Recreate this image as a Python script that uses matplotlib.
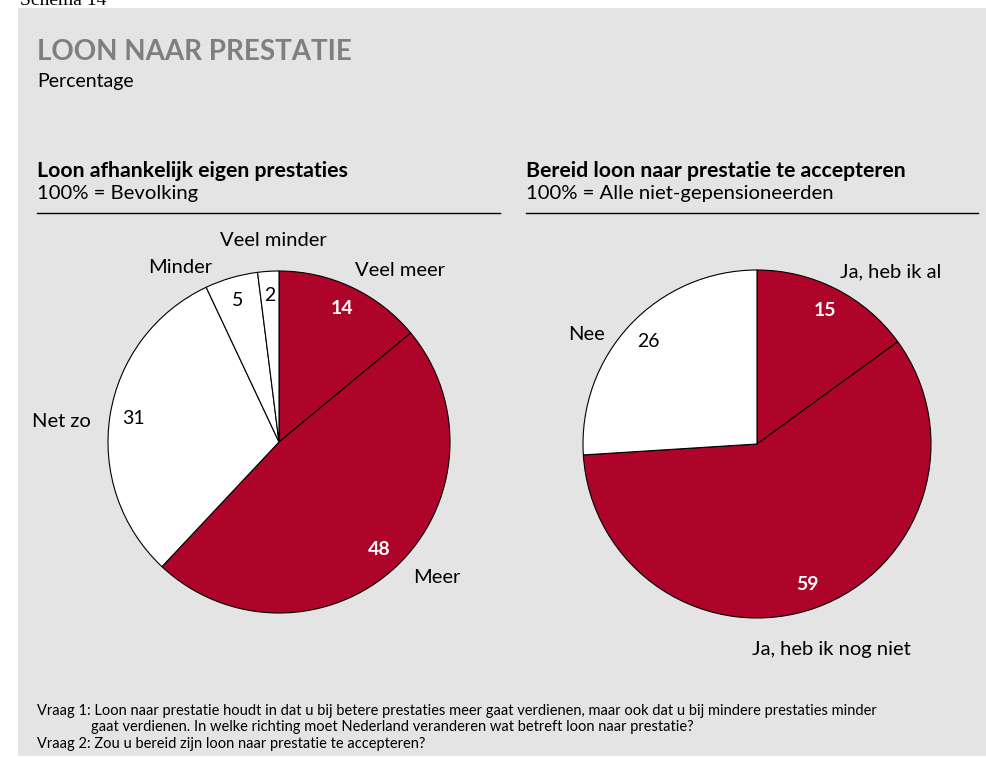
import numpy as np
import matplotlib.pyplot as plt
from matplotlib.patches import Rectangle

# data
left_title = "Loon afhankelijk eigen prestaties"
left_base = "100% = Bevolking"
left_labels = ["Veel meer", "Meer", "Net zo", "Minder", "Veel minder"]
left_values = [14, 48, 31, 5, 2]
left_red = [True, True, False, False, False]

right_title = "Bereid loon naar prestatie te accepteren"
right_base = "100% = Alle niet-gepensioneerden"
right_labels = ["Ja, heb ik al", "Ja, heb ik nog niet", "Nee"]
right_values = [15, 59, 26]
right_red = [True, True, False]

# layout of outside labels (unit-radius coords)
left_label_pos = [(0.71, 1.0), (0.92, -0.79), (-1.27, 0.12), (-0.58, 1.02), (-0.03, 1.18)]
right_label_pos = [(0.77, 0.99), (0.43, -1.18), (-0.98, 0.63)]

RED = "#AF042A"
BG = "#E4E4E4"
W, H = 986, 758

plt.rcParams["font.family"] = ["Lato", "DejaVu Sans"]

fig = plt.figure(figsize=(W / 100, H / 100), dpi=100)


def fx(px):
    return px / W


def fy(py):
    return 1 - py / H


fig.patches.append(Rectangle((fx(18), fy(756)), fx(986) - fx(18), fy(8) - fy(756),
                             transform=fig.transFigure, facecolor=BG, edgecolor="none", zorder=-5))

fig.text(fx(20), fy(5), "Schema 14", family="Liberation Serif", fontsize=14, va="baseline", ha="left")
fig.text(fx(37), fy(52), "LOON NAAR PRESTATIE", fontsize=20, fontweight="bold", color="#7F7F7F",
         va="center", ha="left")
fig.text(fx(37), fy(82), "Percentage", fontsize=14, va="center", ha="left")


def draw_pie(cx, cy, r, values, labels, red, label_pos, title, base, tx, line_x1):
    fig.text(fx(tx), fy(171), title, fontsize=15.3, fontweight="bold", va="center", ha="left")
    fig.text(fx(tx), fy(194), base, fontsize=14.6, va="center", ha="left")
    fig.add_artist(plt.Line2D([fx(tx), fx(line_x1)], [fy(213), fy(213)], color="black", lw=1.0,
                              transform=fig.transFigure))

    ax = fig.add_axes([fx(cx - r), fy(cy + r), fx(2 * r), fy(cy - r) - fy(cy + r)])
    colors = [RED if c else "white" for c in red]
    wedges, texts = ax.pie(values, colors=colors, startangle=90, counterclock=False,
                           wedgeprops=dict(edgecolor="black", linewidth=0.8))
    ax.set_xlim(-1, 1)
    ax.set_ylim(-1, 1)
    ax.set_aspect("equal")
    ax.axis("off")
    for w, v, c in zip(wedges, values, red):
        ang = np.deg2rad((w.theta1 + w.theta2) / 2)
        d = 0.86
        ax.text(d * np.cos(ang), d * np.sin(ang), str(v), ha="center", va="center",
                fontsize=14, fontweight="bold" if c else "normal",
                color="white" if c else "black")
    for lab, (x, y) in zip(labels, label_pos):
        ax.text(x, y, lab, ha="center", va="center", fontsize=14.5, clip_on=False)


draw_pie(279, 442, 171, left_values, left_labels, left_red, left_label_pos,
         left_title, left_base, 37, 500)
draw_pie(757, 444, 174, right_values, right_labels, right_red, right_label_pos,
         right_title, right_base, 526, 978)

notes = ["Vraag 1: Loon naar prestatie houdt in dat u bij betere prestaties meer gaat verdienen, maar ook dat u bij mindere prestaties minder",
         "gaat verdienen. In welke richting moet Nederland veranderen wat betreft loon naar prestatie?",
         "Vraag 2: Zou u bereid zijn loon naar prestatie te accepteren?"]
fig.text(fx(37), fy(711), notes[0], fontsize=10.5, va="center", ha="left")
fig.text(fx(91), fy(727), notes[1], fontsize=10.5, va="center", ha="left")
fig.text(fx(37), fy(744), notes[2], fontsize=10.5, va="center", ha="left")

fig.savefig("out.png", dpi=100)
